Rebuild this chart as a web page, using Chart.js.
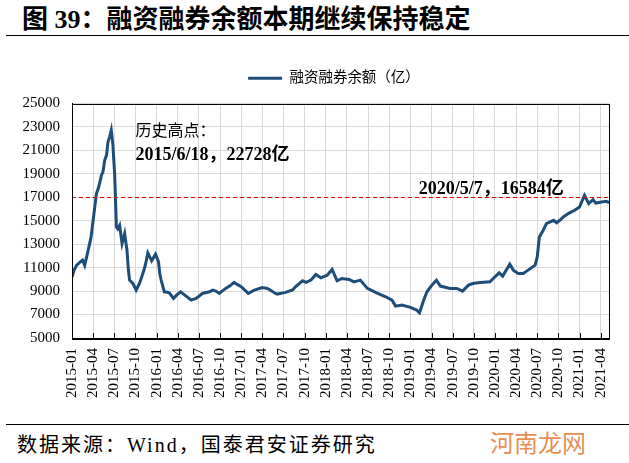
<!DOCTYPE html>
<html>
<head>
<meta charset="utf-8">
<script src="https://cdn.jsdelivr.net/npm/chart.js@4.4.0/dist/chart.umd.min.js"></script>
<style>
  body { margin: 0; width: 629px; height: 463px; background: #fff; position: relative; overflow: hidden;
         font-family: "Liberation Serif", "Noto Sans CJK SC", serif; }
  #title { position: absolute; left: 22px; top: 7px; font-size: 26px; line-height: 26px; font-weight: bold; white-space: nowrap; }
  .rule { position: absolute; left: 6px; right: 0; height: 0; border-top: 1.5px solid #000; }
  #myChart { position: absolute; left: 0; top: 40px; }
  #source { position: absolute; left: 17px; top: 435px; font-size: 20px; line-height: 20px; letter-spacing: 2px; white-space: nowrap; }
  #mark { position: absolute; left: 490px; top: 430px; font-size: 24px; line-height: 24px; color: rgba(230,120,50,0.85);
          font-family: "Noto Sans CJK SC", sans-serif; white-space: nowrap; }
</style>
</head>
<body>
<div id="title">图 39：融资融券余额本期继续保持稳定</div>
<div class="rule" style="top:35px"></div>
<canvas id="myChart" width="629" height="380"></canvas>
<div class="rule" style="top:424px"></div>
<div id="source">数据来源：Wind，国泰君安证券研究</div>
<div id="mark">河南龙网</div>

<script>
// months since 2015-01-01
const monthOffsets = [
  0, 0.3, 0.64, 1.1, 1.5, 1.8, 2.3, 2.7, 3.0, 3.46,
  3.8, 4.17, 4.4, 4.64, 4.9, 5.1, 5.35, 5.57, 5.8, 6.05,
  6.3, 6.5, 6.76, 7.1, 7.47, 7.8, 8.0, 8.17, 8.4, 8.64,
  9.1, 9.6, 10.05, 10.4, 10.76, 11.3, 11.85, 12.27, 12.45, 12.65,
  13.1, 13.5, 13.8, 14.4, 14.9, 15.4, 16.2, 16.9, 17.6, 18.5,
  19.5, 19.95, 20.4, 20.9, 21.8, 22.4, 23.0, 23.5, 24.0, 25.0,
  25.85, 27.0, 27.7, 28.0, 28.7, 29.1, 30.3, 31.3, 31.7, 32.7,
  33.2, 33.9, 34.6, 35.3, 36.2, 36.9, 37.6, 38.3, 39.3, 40.0,
  40.9, 41.9, 43.05, 44.5, 45.4, 45.9, 46.8, 48.0, 48.9, 49.3,
  49.9, 50.35, 51.05, 51.7, 52.25, 53.65, 54.6, 55.4, 56.25, 56.85,
  57.9, 59.3, 60.0, 60.6, 61.1, 62.1, 62.6, 63.3, 64.0, 64.7,
  65.7, 66.0, 66.3, 66.85, 67.3, 68.3, 68.75, 69.2, 69.7, 70.4,
  71.3, 72.0, 72.3, 72.7, 73.3, 73.9, 74.3, 75.1, 75.8, 76.2
];

// 融资融券余额（亿）
const balance = [
  10200, 10800, 11200, 11450, 11640, 11200, 12490, 13600, 15040, 17300,
  17900, 18870, 19200, 20150, 20600, 21700, 22200, 22728, 21500, 19000,
  14470, 14300, 14600, 13060, 13900, 12490, 10800, 9940, 9800, 9650,
  9085, 9700, 10500, 11200, 12260, 11580, 12150, 11500, 10500, 9940,
  8940, 8900, 8860, 8380, 8700, 8940, 8570, 8230, 8380, 8800,
  8940, 9085, 9000, 8800, 9230, 9450, 9740, 9550, 9370, 8800,
  9085, 9310, 9230, 9140, 8860, 8745, 8890, 9100, 9370, 9880,
  9740, 9940, 10420, 10130, 10360, 10850, 9880, 10080, 9995, 9790,
  9940, 9230, 8890, 8515, 8230, 7720, 7810, 7610, 7380, 7150,
  8230, 8940, 9510, 9940, 9430, 9230, 9230, 9000, 9510, 9650,
  9740, 9790, 10220, 10560, 10280, 11300, 10790, 10500, 10500, 10790,
  11210, 11920, 13620, 14190, 14760, 15040, 14830, 15040, 15320, 15610,
  15890, 16170, 16600, 17170, 16460, 16800, 16510, 16600, 16660, 16550
];

const quarterLabels = [
  "2015-01", "2015-04", "2015-07", "2015-10", "2016-01", "2016-04", "2016-07", "2016-10",
  "2017-01", "2017-04", "2017-07", "2017-10", "2018-01", "2018-04", "2018-07", "2018-10",
  "2019-01", "2019-04", "2019-07", "2019-10", "2020-01", "2020-04", "2020-07", "2020-10",
  "2021-01", "2021-04"
];

const refLevel = 17000;
const notes = [
  { text: "历史高点：", x: 9.0, y: 22560, bold: false, size: 16 },
  { text: "2015/6/18，22728亿", x: 9.0, y: 20570, bold: true, size: 18 },
  { text: "2020/5/7，16584亿", x: 49.2, y: 17650, bold: true, size: 18 }
];

const lineColor = "#1c4e79";
const fontFamily = '"Liberation Serif", "Noto Sans CJK SC", serif';

const extras = {
  id: "extras",
  afterLayout(chart) {
    // legend sits a little right of centre in the original
    chart.legend.left += 20;
    chart.legend.right += 20;
  },
  afterDatasetsDraw(chart) {
    const { ctx, chartArea: a, scales: { x, y } } = chart;
    ctx.save();
    // dashed reference line
    const ry = Math.round(y.getPixelForValue(refLevel)) + 0.5;
    ctx.strokeStyle = "#e00000";
    ctx.lineWidth = 1;
    ctx.setLineDash([4, 3]);
    ctx.beginPath();
    ctx.moveTo(a.left, ry);
    ctx.lineTo(a.right, ry);
    ctx.stroke();
    ctx.setLineDash([]);

    // frame
    ctx.strokeStyle = "#000";
    ctx.strokeRect(Math.round(a.left) + 0.5, Math.round(a.top) + 0.5,
                   Math.round(a.right - a.left), Math.round(a.bottom - a.top));

    // inner tick marks on x axis
    ctx.beginPath();
    x.ticks.forEach(t => {
      const px = Math.round(x.getPixelForValue(t.value)) + 0.5;
      ctx.moveTo(px, a.bottom);
      ctx.lineTo(px, a.bottom - 5);
    });
    ctx.stroke();

    // notes
    ctx.fillStyle = "#000";
    ctx.textBaseline = "middle";
    ctx.textAlign = "left";
    notes.forEach(n => {
      ctx.font = (n.bold ? "bold " : "") + n.size + "px " + fontFamily;
      ctx.fillText(n.text, x.getPixelForValue(n.x), y.getPixelForValue(n.y));
    });
    ctx.restore();
  }
};

const ctx = document.getElementById("myChart").getContext("2d");

const chart = new Chart(ctx, {
  type: "line",
  data: {
    datasets: [{
      label: "融资融券余额（亿）",
      data: monthOffsets.map((m, i) => ({ x: m, y: balance[i] })),
      borderColor: lineColor,
      backgroundColor: lineColor,
      borderWidth: 3,
      pointRadius: 0,
      tension: 0,
      xAxisID: "x",
      yAxisID: "y"
    }]
  },
  options: {
    responsive: false,
    animation: false,
    layout: { padding: { top: 21, left: 17, right: 18, bottom: 0 } },
    plugins: {
      tooltip: { enabled: false },
      legend: {
        position: "top",
        labels: {
          boxWidth: 34,
          boxHeight: 3,
          padding: 10,
          color: "#000",
          font: { family: fontFamily, size: 14.5 },
          generateLabels: c => Chart.defaults.plugins.legend.labels.generateLabels(c)
            .map(l => Object.assign(l, { lineWidth: 0, fillStyle: lineColor }))
        }
      }
    },
    scales: {
      x: {
        type: "linear",
        min: 0,
        max: 76.2,
        bounds: "data",
        afterBuildTicks: s => { s.ticks = quarterLabels.map((l, i) => ({ value: i * 3 })); },
        afterFit: s => { s.height = 82; },
        grid: { color: "#d9d9d9", drawTicks: false },
        border: { color: "#000" },
        ticks: {
          autoSkip: false,
          minRotation: 90,
          maxRotation: 90,
          padding: 10,
          color: "#000",
          font: { family: fontFamily, size: 15 },
          callback: v => quarterLabels[Math.round(v / 3)]
        }
      },
      gap: {
        type: "linear",
        position: "top",
        grid: { display: false },
        border: { display: false },
        ticks: { display: false },
        afterFit: s => { s.height = 8; }
      },
      y: {
        min: 5000,
        max: 25000,
        afterFit: s => { s.width = 55; },
        grid: { color: "#d9d9d9", drawTicks: false },
        border: { color: "#000" },
        ticks: {
          stepSize: 2000,
          padding: 12,
          color: "#000",
          font: { family: fontFamily, size: 15 },
          callback: v => String(v)
        }
      }
    }
  },
  plugins: [extras]
});
</script>
</body>
</html>
